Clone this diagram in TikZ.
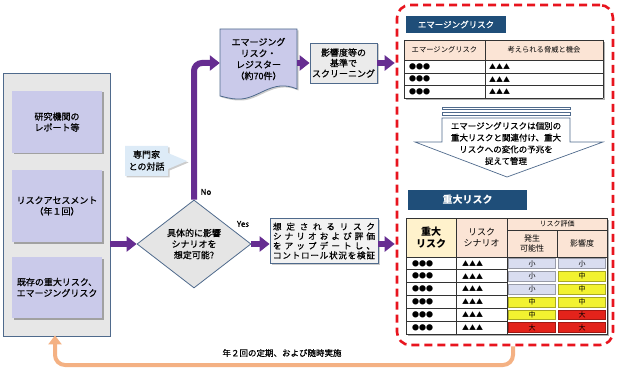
\documentclass[tikz,border=0pt]{standalone}
\usepackage{fontspec}
\setmainfont{Noto Sans CJK JP}
\newfontfamily\medf{Noto Sans CJK JP}[FakeBold=0.6]
\usetikzlibrary{arrows.meta,shadows,shapes.geometric,calc}
\definecolor{purp}{HTML}{662D91}
\definecolor{navy}{HTML}{1F4E79}
\definecolor{peach}{HTML}{FBE4D5}
\definecolor{lyel}{HTML}{FFF2CC}
\definecolor{lav}{HTML}{CACAEA}
\definecolor{panelc}{HTML}{E7E7E7}
\definecolor{edgec}{HTML}{4F6A8C}
\definecolor{rred}{HTML}{E8141E}
\definecolor{orng}{HTML}{F4B183}
\definecolor{smc}{HTML}{D9DDF0}
\definecolor{mdc}{HTML}{F2F230}
\definecolor{lgc}{HTML}{E3231B}
\definecolor{ltblue}{HTML}{DDEBF7}
\definecolor{tgrid}{HTML}{333333}
\makeatletter
\def\spr#1{\spr@a#1\@nil}
\def\spr@a#1#2\@nil{#1\if\relax\detokenize{#2}\relax\else\hfill\spr@a#2\@nil\fi}
\makeatother
\newcommand{\jline}[1]{\makebox[102pt][s]{\spr{#1}}}
\tikzset{
  txt/.style={font=\medf\fontsize{9}{11}\selectfont, align=center, inner sep=0pt},
  parrow/.style={draw=purp, line width=6pt, -{Triangle[width=15pt,length=10pt]}},
  oarrow/.style={draw=orng, line width=4pt, -{Triangle[width=13pt,length=9pt]}},
  panelbox/.style={draw=edgec, fill=panelc, line width=0.8pt, inner sep=0pt},
  inbox/.style={fill=lav, inner sep=0pt, txt, drop shadow={shadow xshift=1.5pt, shadow yshift=-1.5pt, fill=black!55, opacity=0.6}},
  greybox/.style={draw=edgec, fill=black!8, line width=0.8pt, txt},
  titlebox/.style={fill=navy, text=white, inner sep=0pt},
  cellline/.style={draw=tgrid, line width=0.8pt},
  small/.style={font=\fontsize{7}{8}\selectfont, inner sep=0pt},
}
\begin{document}
\begin{tikzpicture}[x=1pt,y=-1pt]
\useasboundingbox (0,0) rectangle (620,371);

% left panel
\node[panelbox, minimum width=107, minimum height=263] (panel) at (56.5,204.5) {};
\node[inbox, minimum width=90, minimum height=62] (src1) at (57,122) {研究機関の\\レポート等};
\node[inbox, minimum width=90, minimum height=72] (src2) at (57,206) {リスクアセスメント\\（年１回）};
\node[inbox, minimum width=90, minimum height=61] (src3) at (57,287.5) {既存の重大リスク、\\エマージングリスク};

% diamond
\node[diamond, draw=edgec, fill=black!10, line width=0.8pt, minimum width=114, minimum height=88, inner sep=1pt, txt] (dia) at (194,244) {具体的に影響\\シナリオを\\想定可能?};
\draw[parrow] (panel.east |- dia.west) -- (dia.west);

% expert callout
\fill[ltblue, drop shadow={shadow xshift=1.5pt, shadow yshift=-1.5pt, fill=black!40, opacity=0.5}]
  (125,146) -- (168,146) -- (168,153) -- (187,161) -- (168,169) -- (168,176) -- (125,176) -- cycle;
\node[txt, font=\medf\fontsize{9}{12}\selectfont] (expert) at (146.5,160.5) {専門家\\との対話};

% register (document shape)
\path[fill=lav, draw=edgec, line width=0.8pt, drop shadow={shadow xshift=1.5pt, shadow yshift=-1.5pt, fill=black!40, opacity=0.5}]
  (220,29) -- (297,29) -- (297,89) .. controls (272,78) and (258,100) .. (238,99) .. controls (230,99) and (225,97) .. (220,96) -- cycle;
\node[inner sep=0pt, minimum width=77, minimum height=69] (reg) at (258.5,63) {};
\node[txt, font=\medf\fontsize{9}{11.3}\selectfont] (regtxt) at (258.5,59) {エマージング\\リスク・\\レジスター\\（約70件）};

% screening box
\node[greybox, minimum width=67, minimum height=40, font=\medf\fontsize{9}{10.5}\selectfont, drop shadow={shadow xshift=1.5pt, shadow yshift=-1.5pt, fill=black!40, opacity=0.5}] (scr) at (343.5,63) {影響度等の\\基準で\\スクリーニング};

% verification box
\node[draw=edgec, fill=black!5, line width=0.8pt, align=center, inner sep=0pt, minimum width=108, minimum height=45, font=\medf\fontsize{8.6}{9.6}\selectfont, drop shadow={shadow xshift=1.5pt, shadow yshift=-1.5pt, fill=black!40, opacity=0.5}] (ver) at (324,241)
  {\jline{想定されるリスク}\\\jline{シナリオおよび評価}\\\jline{をアップデートし、}\\\jline{コントロール状況を検証}};

% red dashed region
\node[draw=rred, line width=2.6pt, dash pattern=on 8pt off 5pt, rounded corners=13pt, minimum width=216, minimum height=340, inner sep=0pt] (region) at (505,175) {};

% purple connectors
\draw[parrow, rounded corners=8pt] (dia.north) |- (reg.west);
\draw[parrow] (reg.east) -- (scr.west);
\coordinate (inA) at (region.west |- scr.east);
\draw[parrow] (scr.east) -- ([xshift=-1pt]inA);
\draw[parrow] (dia.east) -- (dia.east -| ver.west);
\coordinate (inB) at (region.west |- dia.east);
\draw[parrow] (ver.east |- dia.east) -- ([xshift=-1pt]inB);

\node[font=\medf\fontsize{8}{9}\selectfont, inner sep=0pt] (no) at (206,192) {No};
\node[font=\medf\fontsize{8}{9}\selectfont, inner sep=0pt] (yes) at (243,224) {Yes};

% title 1
\node[titlebox, minimum width=100, minimum height=17, font=\medf\fontsize{8.5}{10}\selectfont] (t1) at (456,24.5) {エマージングリスク};

% table 1
\fill[black!30] (406,42) rectangle (605,100);
\fill[white] (404,40) rectangle (603,98);
\fill[peach] (404,40) rectangle (603,60);
\foreach \y in {40,60,73,85.5,98} \draw[cellline] (404,\y) -- (603,\y);
\foreach \x in {404,485,603} \draw[cellline] (\x,40) -- (\x,98);
\node[small, font=\fontsize{7.3}{8}\selectfont] (h11) at (444.5,50) {エマージングリスク};
\node[small, font=\fontsize{7.3}{8}\selectfont] (h12) at (544,50) {考えられる脅威と機会};
\foreach \y/\n in {66.5/a,79.3/b,91.8/c} {
  \node[small, anchor=west] (e\n1) at (409,\y) {●●●};
  \node[small, anchor=west] (e\n2) at (489,\y) {▲▲▲};
}

% big arrow
\draw[edgec, fill=white, line width=0.7pt] (442,107) rectangle (570,109.5);
\draw[edgec, fill=white, line width=0.7pt] (442,112) rectangle (570,115.5);
\draw[edgec, fill=white, line width=0.7pt] (442,118) -- (570,118) -- (570,142) -- (603,142) -- (507,177) -- (415,142) -- (442,142) -- cycle;
\node[txt, font=\medf\fontsize{8.5}{11.7}\selectfont] (bigtxt) at (506,143.5) {エマージングリスクは個別の\\重大リスクと関連付け、重大\\リスクへの変化の予兆を\\捉えて管理};

% title 2
\node[titlebox, minimum width=119, minimum height=20, font=\bfseries\fontsize{10}{12}\selectfont] (t2) at (467.5,200) {重大リスク};

% table 2
\fill[black!30] (408,220) rectangle (609,336);
\fill[white] (406,218) rectangle (607,334);
\fill[lyel] (406,218) rectangle (456,257);
\fill[peach] (456,218) rectangle (607,257);
\pgfmathsetmacro{\rh}{77/6}
\foreach \i/\a/\b in {0/smc/smc,1/smc/mdc,2/smc/mdc,3/mdc/mdc,4/mdc/lgc,5/lgc/lgc} {
  \pgfmathsetmacro{\ya}{257+\i*\rh}
  \pgfmathsetmacro{\yb}{257+(\i+1)*\rh}
  \pgfmathsetmacro{\ym}{257+(\i+0.5)*\rh}
  \fill[\a] (508.5,\ya+1.5) rectangle (555.5,\yb-1.5);
  \draw[\a!70!black, line width=0.5pt] (508.5,\ya+1.5) rectangle (555.5,\yb-1.5);
  \fill[\b] (558.5,\ya+1.5) rectangle (605.5,\yb-1.5);
  \draw[\b!70!black, line width=0.5pt] (558.5,\ya+1.5) rectangle (605.5,\yb-1.5);
  \node[small, anchor=west] (r\i c1) at (412,\ym) {●●●};
  \node[small, anchor=west] (r\i c2) at (462,\ym) {▲▲▲};
}
\foreach \i/\p/\q in {0/小/小,1/小/中,2/小/中,3/中/中,4/中/大,5/大/大} {
  \pgfmathsetmacro{\ym}{257+(\i+0.5)*\rh}
  \node[small] (r\i c3) at (532,\ym) {\p};
  \node[small] (r\i c4) at (582,\ym) {\q};
}
\draw[cellline] (406,218) rectangle (607,334);
\draw[cellline] (507,230) -- (607,230);
\draw[cellline] (406,257) -- (607,257);
\foreach \i in {1,...,5} \draw[cellline] (406,257+\i*\rh) -- (507,257+\i*\rh);
\foreach \x in {456,507} \draw[cellline] (\x,218) -- (\x,334);
\draw[cellline] (557,230) -- (557,257);
\node[inner sep=0pt, align=center, font=\bfseries\fontsize{10}{12.5}\selectfont] (h21) at (431,237.5) {重大\\リスク};
\node[inner sep=0pt, align=center, font=\fontsize{9}{11}\selectfont] (h22) at (481.5,237.5) {リスク\\シナリオ};
\node[small] (h23) at (557,224) {リスク評価};
\node[inner sep=0pt, align=center, font=\fontsize{8}{9.5}\selectfont] (h24) at (532,243.5) {発生\\可能性};
\node[inner sep=0pt, align=center, font=\fontsize{8}{9.5}\selectfont] (h25) at (582,243.5) {影響度};

% orange feedback
\coordinate (fb) at (region.south -| 513,0);
\coordinate (fe) at (panel.south -| 55,0);
\draw[oarrow, rounded corners=10pt] (fb) -- (513,365) -- (55,365) -- ([yshift=1pt]fe);
\node[font=\medf\fontsize{8.5}{10}\selectfont, inner sep=0pt] (fbl) at (282,353) {年２回の定期、および随時実施};
\end{tikzpicture}
\end{document}
